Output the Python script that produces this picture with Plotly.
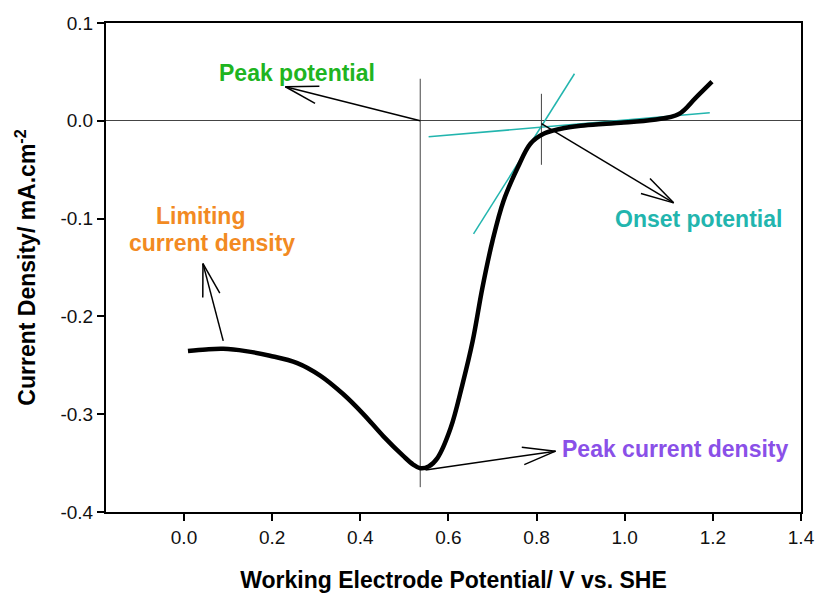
import math
import plotly.graph_objects as go

# ---------------- data ----------------
potential = [0.009, 0.05, 0.089, 0.14, 0.195, 0.257, 0.309, 0.361, 0.407, 0.452,
             0.498, 0.52, 0.536, 0.555, 0.575, 0.605, 0.632, 0.655, 0.677, 0.70,
             0.725, 0.757, 0.786, 0.816, 0.855, 0.90, 0.95, 0.991, 1.066, 1.123,
             1.161, 1.198]
current = [-0.2354, -0.2338, -0.2332, -0.2355, -0.2402, -0.2477, -0.2605, -0.2794, -0.2999, -0.3224,
           -0.3429, -0.3515, -0.3552, -0.3535, -0.3449, -0.3142, -0.2692, -0.2252, -0.1709, -0.1228,
           -0.0819, -0.0481, -0.0235, -0.0133, -0.0082, -0.0051, -0.0032, -0.002, 0.001, 0.007,
           0.0235, 0.040]

# tangent lines (onset construction)
tan_steep_x = [0.657, 0.886]
tan_steep_y = [-0.1157, 0.0481]
tan_flat_x = [0.555, 1.193]
tan_flat_y = [-0.0164, 0.0082]

# marker lines
peak_line_x = [0.536, 0.536]
peak_line_y = [0.043, -0.3746]
onset_line_x = [0.811, 0.811]
onset_line_y = [0.0276, -0.045]

# arrows: tail (x,y) -> head (x,y)
arrow_tail_x = [0.536, 0.089, 0.811, 0.548]
arrow_tail_y = [0.0, -0.225, -0.003, -0.357]
arrow_head_x = [0.230, 0.043, 1.111, 0.843]
arrow_head_y = [0.0348, -0.146, -0.0839, -0.3378]

# labels
label_text = ["Peak potential", "Limiting", "current density", "Onset potential", "Peak current density"]
label_x = [0.257, 0.0364, 0.0636, 1.168, 1.114]
label_y = [0.0491, -0.0972, -0.1249, -0.1003, -0.3357]
label_color = ["#20B420", "#F28A22", "#F28A22", "#22B5AE", "#8A50E8"]

x_ticks = [0.0, 0.2, 0.4, 0.6, 0.8, 1.0, 1.2, 1.4]
x_tick_text = ["0.0", "0.2", "0.4", "0.6", "0.8", "1.0", "1.2", "1.4"]
y_ticks = [-0.4, -0.3, -0.2, -0.1, 0.0, 0.1]
y_tick_text = ["-0.4", "-0.3", "-0.2", "-0.1", "0.0", "0.1"]

# ---------------- layout constants ----------------
W, H = 818, 593
ML, MR, MT, MB = 106, 17, 23, 81
XR = [-0.177, 1.4]
YR = [-0.4, 0.1]
FONT = "Arial, Liberation Sans, sans-serif"

sx = (W - ML - MR) / (XR[1] - XR[0])   # px per x-unit
sy = (H - MT - MB) / (YR[1] - YR[0])   # px per y-unit

fig = go.Figure()

fig.add_trace(go.Scatter(x=tan_steep_x, y=tan_steep_y, mode="lines",
                         line=dict(color="#22B5AE", width=1.5), hoverinfo="skip"))
fig.add_trace(go.Scatter(x=tan_flat_x, y=tan_flat_y, mode="lines",
                         line=dict(color="#22B5AE", width=1.5), hoverinfo="skip"))
fig.add_trace(go.Scatter(x=peak_line_x, y=peak_line_y, mode="lines",
                         line=dict(color="#444444", width=1), hoverinfo="skip"))
fig.add_trace(go.Scatter(x=onset_line_x, y=onset_line_y, mode="lines",
                         line=dict(color="#444444", width=1), hoverinfo="skip"))

fig.add_trace(go.Scatter(x=potential, y=current, mode="lines",
                         line=dict(color="black", width=4.5, shape="spline", smoothing=1.0)))

# arrows with open V heads
ARM_LEN = 34.0
ARM_ANG = math.radians(15)
for tx, ty, hx, hy in zip(arrow_tail_x, arrow_tail_y, arrow_head_x, arrow_head_y):
    dxp = (tx - hx) * sx
    dyp = (ty - hy) * sy
    ang = math.atan2(dyp, dxp)
    xs = [tx, hx, None]
    ys = [ty, hy, None]
    for s in (-1, 1):
        a = ang + s * ARM_ANG
        ex = hx + ARM_LEN * math.cos(a) / sx
        ey = hy + ARM_LEN * math.sin(a) / sy
        xs += [hx, ex, None]
        ys += [hy, ey, None]
    fig.add_trace(go.Scatter(x=xs, y=ys, mode="lines",
                             line=dict(color="black", width=1.5), hoverinfo="skip"))

for t, x, y, c in zip(label_text, label_x, label_y, label_color):
    fig.add_annotation(x=x, y=y, xref="x", yref="y", text="<b>%s</b>" % t,
                       showarrow=False, font=dict(family=FONT, size=23, color=c),
                       xanchor="center", yanchor="middle")

axis_common = dict(showline=True, linecolor="black", linewidth=2, mirror=True,
                   ticks="outside", ticklen=7, tickwidth=1.5, tickcolor="black",
                   showgrid=False, automargin=False,
                   tickfont=dict(family=FONT, size=19, color="#111111"))

fig.update_layout(
    template="none",
    width=W, height=H,
    margin=dict(l=ML, r=MR, t=MT, b=MB),
    paper_bgcolor="white", plot_bgcolor="white",
    showlegend=False,
    xaxis=dict(range=XR, tickvals=x_ticks, ticktext=x_tick_text, zeroline=False,
               title=dict(text="<b>Working Electrode Potential/ V vs. SHE</b>",
                          font=dict(family=FONT, size=23, color="black"), standoff=25),
               **axis_common),
    yaxis=dict(range=YR, tickvals=y_ticks, ticktext=y_tick_text,
               zeroline=True, zerolinecolor="#444444", zerolinewidth=1,
               title=dict(text="<b>Current Density/ mA.cm<sup>-2</sup></b>",
                          font=dict(family=FONT, size=23, color="black"), standoff=18),
               **axis_common),
)

fig.write_html("out.html")
